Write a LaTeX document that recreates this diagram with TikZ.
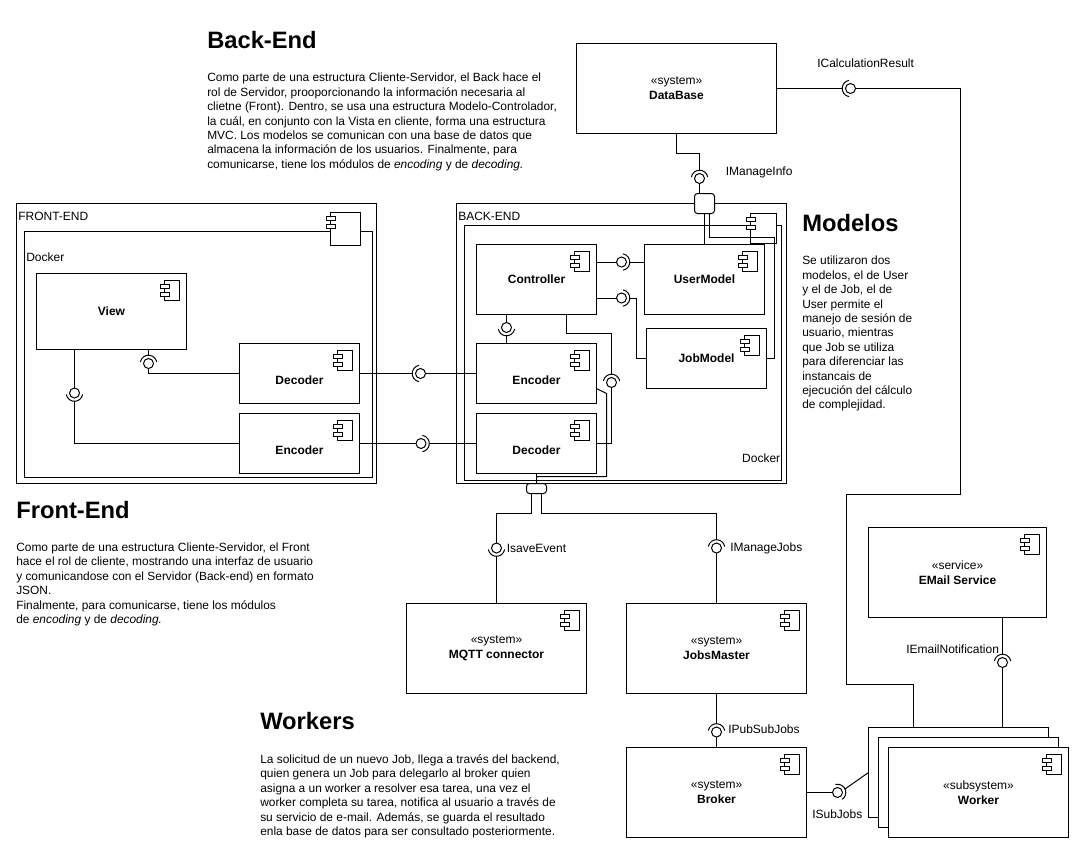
\documentclass[tikz,border=0pt]{standalone}
\usepackage{fontspec}
\setmainfont{Liberation Sans}
\tikzset{
  every node/.style={font=\fontsize{9}{11}\selectfont},
  linkline/.style={line width=0.75pt},
  compbox/.style 2 args={draw,line width=0.75pt,fill=white,inner sep=0pt,outer sep=0pt,align=center,minimum width=#1,minimum height=#2},
  lowtext/.style={text height=17pt,text depth=0pt},
  namebold/.style={font=\fontsize{9}{11}\selectfont\bfseries},
  ifcball/.style={circle,draw,line width=0.75pt,fill=white,inner sep=0pt,outer sep=0pt,minimum size=7.5pt},
  portbox/.style={draw,line width=0.75pt,fill=white,inner sep=0pt,outer sep=0pt,rounded corners=2.25pt},
  ifctext/.style={anchor=west,inner sep=0pt},
  titletext/.style={anchor=west,inner sep=0pt,font=\fontsize{17.8}{20}\selectfont\bfseries},
  bodytext/.style={anchor=north west,inner sep=0pt,align=left,font=\fontsize{8.94}{10.8}\selectfont},
  pics/compicon/.style 2 args={code={
    \draw[line width=0.75pt,fill=white] (0,0) rectangle (-#1,#2);
    \draw[line width=0.75pt,fill=white] (-#1-4,4) rectangle (-#1+4.5,8.3);
    \draw[line width=0.75pt,fill=white] (-#1-4,12) rectangle (-#1+4.5,16.3);
  }},
}
\newcommand{\socket}[2]{
  \draw[linkline] ([shift={(#2-80:8.3)}]#1.center) arc[start angle=#2-80,end angle=#2+80,radius=8.3];
  \coordinate (#1s) at ([shift={(#2:8.3)}]#1.center);
}
\begin{document}
\begin{tikzpicture}[x=0.75pt,y=-0.75pt]
  \useasboundingbox (0,0) rectangle (1079,854);

  \node[compbox={270pt}{210pt}] (frontbox) at (196.5,343.5) {};
  \node[compbox={261pt}{184.1pt}] (frontdocker) at (198.5,354.3) {};
  \node[compbox={247.5pt}{210pt}] (backbox) at (621.5,343.5) {};
  \node[compbox={237.8pt}{190.9pt}] (backdocker) at (623,352.8) {};

  \node[ifctext] (fronttag) at (18,216.7) {FRONT-END};
  \node[ifctext] (frontdockertag) at (26,257) {Docker};
  \node[ifctext] (backtag) at (458,216.7) {BACK-END};
  \node[ifctext,anchor=east] (backdockertag) at (780.5,458.5) {Docker};

  \pic at (360,212) {compicon={29.5}{33}};
  \pic at (776.5,213.5) {compicon={26}{30}};

  \node[compbox={112.5pt}{57pt},namebold] (frontview) at (111.5,311.5) {View};
  \node[compbox={90pt}{45pt},namebold,lowtext] (frontdec) at (299.5,373.5) {Decoder};
  \node[compbox={90pt}{45pt},namebold,lowtext] (frontenc) at (299.5,443.5) {Encoder};
  \node[compbox={90pt}{52.9pt},namebold] (controller) at (536.5,279.7) {Controller};
  \node[compbox={90pt}{52.9pt},namebold] (usermodel) at (704.5,279.7) {UserModel};
  \node[compbox={90pt}{45pt},namebold] (jobmodel) at (706.5,358.5) {JobModel};
  \node[compbox={90pt}{45pt},namebold,lowtext] (backenc) at (536.5,373.5) {Encoder};
  \node[compbox={90pt}{45pt},namebold,lowtext] (backdec) at (536.5,443.5) {Decoder};

  \node[compbox={150pt}{67.5pt}] (database) at (676.5,88.5) {«system»\\\textbf{DataBase}};
  \node[compbox={135pt}{67.5pt}] (mqtt) at (496.5,648.5) {«system»\\\textbf{MQTT connector}};
  \node[compbox={135pt}{67.5pt}] (jobsmaster) at (716.5,648.5) {«system»\\\textbf{JobsMaster}};
  \node[compbox={135pt}{67.5pt}] (broker) at (716.5,792.5) {«system»\\\textbf{Broker}};
  \node[compbox={133.5pt}{67.5pt}] (service) at (957.5,572.5) {«service»\\\textbf{EMail Service}};
  \node[compbox={135pt}{67.5pt}] (workerc) at (958.5,772.5) {};
  \node[compbox={135pt}{67.5pt}] (workerb) at (968.5,782.5) {};
  \node[compbox={135pt}{67.5pt}] (workera) at (978.5,792.5) {«subsystem»\\\textbf{Worker}};

  \foreach \n in {frontview,frontdec,frontenc,controller,usermodel,jobmodel,backenc,backdec,mqtt,jobsmaster,broker,service,workera}{
    \pic at ([shift={(-7,7)}]\n.north east) {compicon={15}{20}};
  }

  \node[portbox,minimum width=15pt,minimum height=15pt] (topport) at (704.5,203.5) {};
  \node[portbox,minimum width=15pt,minimum height=7.5pt] (botport) at (536.5,488.5) {};

  \node[ifcball] (ifcviewdec) at (148.5,363.5) {};
  \node[ifcball] (ifcviewenc) at (74.5,393) {};
  \node[ifcball] (ifcdec) at (420.5,373.5) {};
  \node[ifcball] (ifcenc) at (421,443.5) {};
  \node[ifcball] (ifcuser) at (621.5,262) {};
  \node[ifcball] (ifcmodel) at (621.5,298) {};
  \node[ifcball] (ifcencoder) at (506.5,327.5) {};
  \node[ifcball] (ifcback) at (611.5,382.5) {};
  \node[ifcball] (ifcresult) at (850.5,88.5) {};
  \node[ifcball] (ifcinfo) at (699.5,178.5) {};
  \node[ifcball] (ifcsave) at (496.5,548) {};
  \node[ifcball] (ifcjobs) at (716.5,548) {};
  \node[ifcball] (ifcpub) at (716.5,732) {};
  \node[ifcball] (ifcsub) at (837.5,792.5) {};
  \node[ifcball] (ifcmail) at (1002.5,662.5) {};

  \socket{ifcviewdec}{-90}
  \socket{ifcviewenc}{90}
  \socket{ifcdec}{180}
  \socket{ifcenc}{0}
  \socket{ifcuser}{0}
  \socket{ifcmodel}{0}
  \socket{ifcencoder}{90}
  \socket{ifcback}{-90}
  \socket{ifcresult}{180}
  \socket{ifcinfo}{-90}
  \socket{ifcsave}{90}
  \socket{ifcjobs}{-90}
  \socket{ifcpub}{-90}
  \socket{ifcsub}{-25}
  \socket{ifcmail}{-90}

  \coordinate (jobT) at (636.5,358.5);
  \coordinate (ctrlA) at (566.5,333.5);
  \coordinate (ctrlB) at (611.5,333.5);
  \coordinate (encS) at (596.5,388.5);
  \coordinate (encA) at (606.5,393.5);
  \coordinate (encB) at (606.5,476.5);
  \coordinate (encC) at (536.5,476.5);
  \coordinate (portJob) at (774.5,237.5);
  \coordinate (infoA) at (699.5,153.5);
  \coordinate (saveA) at (496.5,513.5);
  \coordinate (jobsA) at (716.5,513.5);
  \coordinate (resA) at (960.5,88.5);
  \coordinate (resB) at (960.5,494.5);
  \coordinate (resC) at (846.5,494.5);
  \coordinate (resD) at (846.5,684.5);
  \coordinate (resE) at (913.5,684.5);

  \begin{scope}[linkline]
    \draw (frontview.south -| ifcviewdec) -- (ifcviewdecs);
    \draw (ifcviewdec.south) |- (frontdec.west);
    \draw (frontview.south -| ifcviewenc) -- (ifcviewenc.north);
    \draw (frontenc.west) -| (ifcviewencs);
    \draw (frontdec.east) -- (ifcdecs);
    \draw (ifcdec.east) -- (backenc.west);
    \draw (frontenc.east) -- (ifcenc.west);
    \draw (ifcencs) -- (backdec.west);
    \draw (controller.east |- ifcuser) -- (ifcuser.west);
    \draw (ifcusers) -- (usermodel.west |- ifcuser);
    \draw (controller.east |- ifcmodel) -- (ifcmodel.west);
    \draw (ifcmodels) -| (jobT) -- (jobmodel.west);
    \draw (controller.south -| ifcencoder) -- (ifcencoder.north);
    \draw (ifcencoders) -- (backenc.north -| ifcencoder);
    \draw (controller.south -| ctrlA) -- (ctrlA) -- (ctrlB) -- (ifcbacks);
    \draw (ifcback.south) |- (backdec.east);
    \draw (encS) -- (encA) -- (encB) -- (encC) -- (botport.north -| encC);
    \draw (backdec.south) -- (botport.north);
    \draw (database.east) -- (ifcresults);
    \draw (ifcresult.east) -- (resA) -- (resB) -- (resC) -- (resD) -- (resE) -- (workerc.north -| resE);
    \draw (database.south) |- (infoA) -- (ifcinfos);
    \draw (ifcinfo.south) -- (topport.north -| ifcinfo);
    \draw (topport.south) -- (usermodel.north -| topport);
    \draw ([xshift=3.4pt]topport.south) |- (portJob) -- (jobmodel.east -| portJob) -- (jobmodel.east);
    \draw ([xshift=-3.75pt]botport.south) |- (saveA) -- (ifcsave.north);
    \draw (ifcsaves) -- (mqtt.north);
    \draw ([xshift=3.75pt]botport.south) |- (jobsA) -- (ifcjobss);
    \draw (ifcjobs.south) -- (jobsmaster.north);
    \draw (jobsmaster.south) -- (ifcpubs);
    \draw (ifcpub.south) -- (broker.north);
    \draw (broker.east) -- (ifcsub.west);
    \draw (ifcsubs) -- (workerc.west);
    \draw (service.south -| ifcmail) -- (ifcmails);
    \draw (ifcmail.south) -- (workerc.north -| ifcmail);
  \end{scope}

  \node[ifctext] (resulttag) at (817,63) {ICalculationResult};
  \node[ifctext] (infotag) at (725.5,172.7) {IManageInfo};
  \node[ifctext] (savetag) at (506.5,548) {IsaveEvent};
  \node[ifctext] (jobstag) at (730,548) {IManageJobs};
  \node[ifctext] (pubtag) at (728,729) {IPubSubJobs};
  \node[ifctext] (mailtag) at (906,649) {IEmailNotification};
  \node[ifctext] (subtag) at (812,814) {ISubJobs};

  \node[titletext] (backtitle) at (207,40) {Back-End};
  \node[bodytext] (backbody) at (207,73) {Como parte de una estructura Cliente-Servidor, el Back hace el\\
    rol de Servidor, prooporcionando la información necesaria al\\
    clietne (Front). Dentro, se usa una estructura Modelo-Controlador,\\
    la cuál, en conjunto con la Vista en cliente, forma una estructura\\
    MVC. Los modelos se comunican con una base de datos que\\
    almacena la información de los usuarios. Finalmente, para\\
    comunicarse, tiene los módulos de \emph{encoding} y de \emph{decoding.}};
  \node[titletext] (modeltitle) at (802,223) {Modelos};
  \node[bodytext] (modelbody) at (802,256) {Se utilizaron dos\\
    modelos, el de User\\
    y el de Job, el de\\
    User permite el\\
    manejo de sesión de\\
    usuario, mientras\\
    que Job se utiliza\\
    para diferenciar las\\
    instancais de\\
    ejecución del cálculo\\
    de complejidad.};
  \node[titletext] (fronttitle) at (16,510) {Front-End};
  \node[bodytext] (frontbody) at (16,542.5) {Como parte de una estructura Cliente-Servidor, el Front\\
    hace el rol de cliente, mostrando una interfaz de usuario\\
    y comunicandose con el Servidor (Back-end) en formato\\
    JSON.\\
    Finalmente, para comunicarse, tiene los módulos\\
    de \emph{encoding} y de \emph{decoding.}};
  \node[titletext] (workertitle) at (260,721) {Workers};
  \node[bodytext] (workerbody) at (260,754.5) {La solicitud de un nuevo Job, llega a través del backend,\\
    quien genera un Job para delegarlo al broker quien\\
    asigna a un worker a resolver esa tarea, una vez el\\
    worker completa su tarea, notifica al usuario a través de\\
    su servicio de e-mail. Además, se guarda el resultado\\
    enla base de datos para ser consultado posteriormente.};
\end{tikzpicture}
\end{document}
